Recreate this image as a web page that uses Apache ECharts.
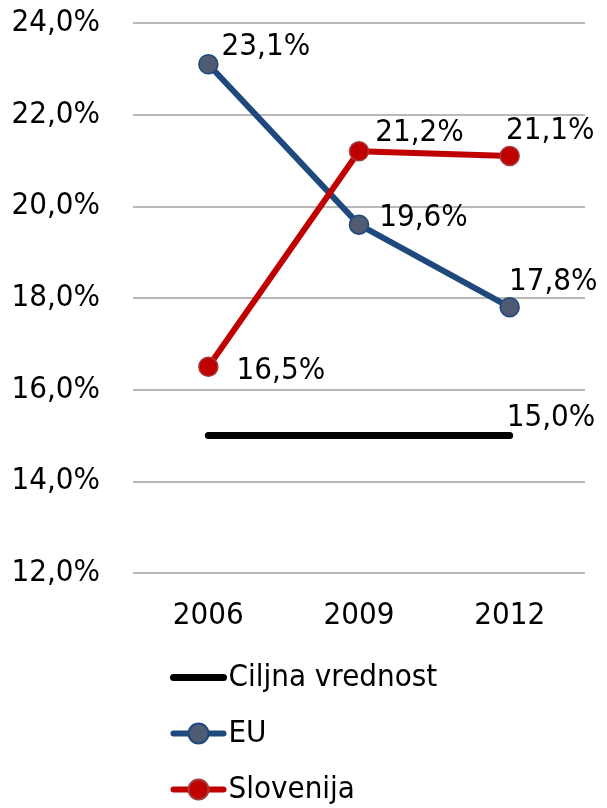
<!DOCTYPE html>
<html><head><meta charset="utf-8">
<script src="https://cdn.jsdelivr.net/npm/echarts@6/dist/echarts.min.js"></script>
<style>html,body{margin:0;padding:0;background:#fff}#c{width:607px;height:808px}</style>
</head><body><div id="c"></div>
<script>
var categories = ['2006', '2009', '2012'];
var targetName = 'Ciljna vrednost';
var targetValues = [15.0, 15.0, 15.0];
var euName = 'EU';
var euValues = [23.1, 19.6, 17.8];
var sloName = 'Slovenija';
var sloValues = [16.5, 21.2, 21.1];
var yTicks = [12, 14, 16, 18, 20, 22, 24];

var FONT = "'DejaVu Sans Condensed', 'DejaVu Sans', sans-serif";
var FS = 31;
function fmt(v){ return v.toFixed(1).replace('.', ',') + '%'; }

// label offsets (layout only)
var euOff = [[3,-17],[10,-7],[-11,-25]];
var sloOff = [[18,4],[6,-18],[-14,-25]];
var tgtOff = [[0,0],[0,0],[-3,-18]];

function build(vals, offs, showIdx){
  return vals.map(function(v,i){
    var show = showIdx ? showIdx.indexOf(i) >= 0 : true;
    return {value: v, label: {show: show, offset: offs[i]}};
  });
}

var chart = echarts.init(document.getElementById('c'), null, {renderer:'canvas'});
chart.setOption({
  animation: false,
  backgroundColor: '#ffffff',
  textStyle: {fontFamily: FONT},
  grid: {left: 133, right: 22, top: 23, bottom: 235},
  legend: {
    orient: 'vertical', left: 170, top: 662, height: 146, padding: 0,
    itemWidth: 50, itemHeight: 25, itemGap: 25,
    lineStyle: {width: 'inherit'},
    textStyle: {fontFamily: FONT, fontSize: FS, color: '#000', lineHeight: 30},
    data: [targetName, euName, sloName]
  },
  xAxis: {
    type: 'category', data: categories, boundaryGap: true,
    axisLine: {show: false}, axisTick: {show: false},
    axisLabel: {fontFamily: FONT, fontSize: FS, color: '#000', margin: 27}
  },
  yAxis: {
    type: 'value', min: yTicks[0], max: yTicks[yTicks.length-1], interval: 2,
    axisLine: {show: false}, axisTick: {show: false},
    splitLine: {lineStyle: {color: '#a0a0a0', width: 1.5}},
    axisLabel: {fontFamily: FONT, fontSize: FS, color: '#000', margin: 33,
      formatter: function(v){ return fmt(v); }}
  },
  series: [
    {
      name: targetName, type: 'line', data: build(targetValues, tgtOff, [2]),
      symbol: 'circle', symbolSize: 0, showSymbol: true, z: 2,
      lineStyle: {color: '#000', width: 7, cap: 'round'},
      itemStyle: {color: 'rgba(0,0,0,0)'},
      label: {position: 'right', distance: 0, fontFamily: FONT, fontSize: FS, color: '#000',
        formatter: function(p){ return fmt(p.value); }}
    },
    {
      name: euName, type: 'line', data: build(euValues, euOff),
      symbol: 'circle', symbolSize: 19, z: 3,
      lineStyle: {color: '#1f497d', width: 6, cap: 'round'},
      itemStyle: {color: '#4f5b72', borderColor: '#1f497d', borderWidth: 1.5},
      label: {position: 'right', distance: 0, fontFamily: FONT, fontSize: FS, color: '#000',
        formatter: function(p){ return fmt(p.value); }}
    },
    {
      name: sloName, type: 'line', data: build(sloValues, sloOff),
      symbol: 'circle', symbolSize: 19, z: 4,
      lineStyle: {color: '#c00000', width: 6, cap: 'round'},
      itemStyle: {color: '#c00000', borderColor: '#a33a3a', borderWidth: 1.5},
      label: {position: 'right', distance: 0, fontFamily: FONT, fontSize: FS, color: '#000',
        formatter: function(p){ return fmt(p.value); }}
    }
  ]
});
</script>
</body></html>
